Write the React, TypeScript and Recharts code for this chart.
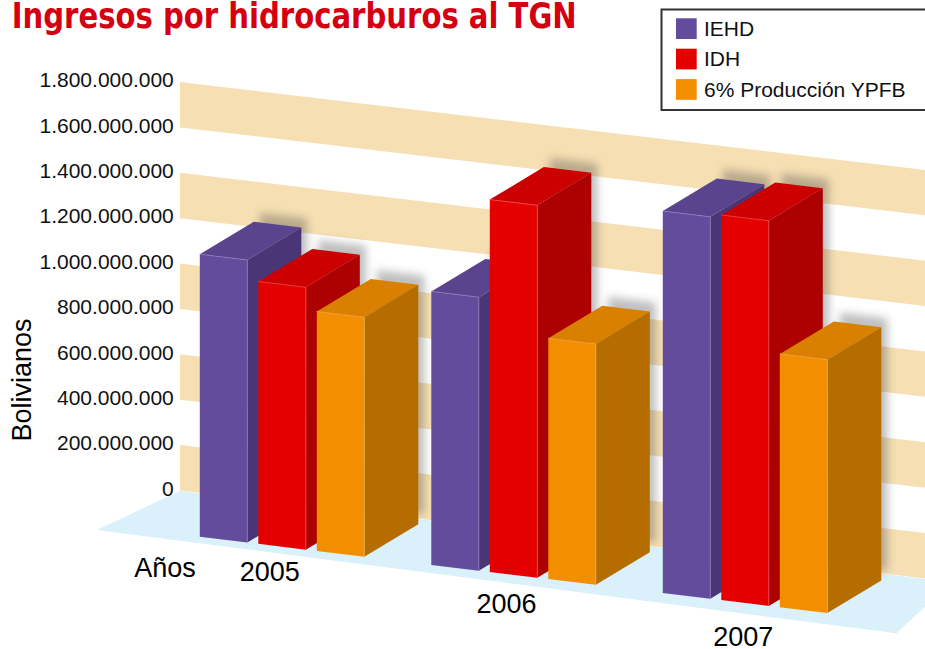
import React from 'react';
import { BarChart, Bar, XAxis, YAxis, ReferenceArea } from 'recharts';

// ---- data ----
const years = ['2005', '2006', '2007'];
const iehd = [1245000000, 1205000000, 1683000000];
const idh = [1156000000, 1641000000, 1697000000];
const ypfb = [1055000000, 1061000000, 1116000000];
const yTicks = [0, 200000000, 400000000, 600000000, 800000000, 1000000000, 1200000000, 1400000000, 1600000000, 1800000000];
const tanBands: [number, number][] = [
  [0, 200000000],
  [400000000, 600000000],
  [800000000, 1000000000],
  [1200000000, 1400000000],
  [1600000000, 1800000000],
];
const seriesNames = ['IEHD', 'IDH', '6% Producción YPFB'];

const data = years.map((year, i) => ({ year, iehd: iehd[i], idh: idh[i], ypfb: ypfb[i] }));

// ---- styling / layout ----
const FONT = "'Liberation Sans', Arial, Helvetica, sans-serif";
const W = 925;
const H = 649;
const PLOT_LEFT = 165.8;
const PLOT_TOP = 82;
const PLOT_BOTTOM = 490.5;
const PLOT_RIGHT = 860.3;

const K_BAR = 0.1215;
const K_WALL = 0.118;
const DROP = 46.2;
const XREF = 199.3;
const DX = 54;
const DY = -32.5;
const WALL_PAD = 14.2;

const COLORS = {
  iehd: { front: '#634c9c', top: '#5a448d', side: '#4a3577', hi: '#8a7bbd' },
  idh: { front: '#e50000', top: '#cc0000', side: '#ad0000', hi: '#f04a4a' },
  ypfb: { front: '#f28e00', top: '#d98000', side: '#b66d00', hi: '#f7ad4a' },
};

const fmt = (n: number) => String(n).replace(/\B(?=(\d{3})+(?!\d))/g, '.');

const drop = (px: number) => DROP + K_BAR * (px - XREF);
const pts = (arr: number[][]) => arr.map((p) => `${p[0]},${p[1]}`).join(' ');

function makeBox(key: 'iehd' | 'idh' | 'ypfb') {
  const c = COLORS[key];
  return (props: any) => {
    const { x, y, width, height, index } = props;
    if (x == null || y == null || !height) return <g />;
    const x1 = x;
    const x2 = x + width;
    const top = y;
    const bot = y + height;
    const ftl = [x1, top + drop(x1)];
    const ftr = [x2, top + drop(x2)];
    const fbr = [x2, bot + drop(x2)];
    const fbl = [x1, bot + drop(x1)];
    const b = (p: number[]) => [p[0] + DX, p[1] + DY];
    const sh = (p: number[]) => [p[0] + DX + 6, p[1] + DY - 9];
    const fid = `shadow-${key}-${index}`;
    return (
      <g>
        <defs>
          <filter id={fid} x="-50%" y="-50%" width="200%" height="200%">
            <feGaussianBlur stdDeviation="4" />
          </filter>
        </defs>
        <polygon points={pts([sh(ftl), sh(ftr), sh(fbr), sh(fbl)])} fill="#3d3d3d" opacity={0.33} filter={`url(#${fid})`} />
        <polygon points={pts([ftl, ftr, fbr, fbl])} fill={c.front} />
        <polygon points={pts([ftl, ftr, b(ftr), b(ftl)])} fill={c.top} />
        <polygon points={pts([ftr, b(ftr), b(fbr), fbr])} fill={c.side} />
        <polyline points={pts([ftl, ftr, fbr])} fill="none" stroke={c.hi} strokeWidth={0.8} />
      </g>
    );
  };
}

const WallBand = (props: any) => {
  const { x, y, width, height } = props;
  const xl = x + WALL_PAD;
  const xr = x + width + 200;
  const s = K_WALL * (xr - xl);
  return <polygon points={pts([[xl, y], [xr, y + s], [xr, y + height + s], [xl, y + height]])} fill="#f6dfb3" />;
};

const Floor = (props: any) => {
  const { x, y, height } = props;
  const xl = x + WALL_PAD;
  const b = y + height;
  return (
    <polygon
      points={pts([
        [xl - 83.3, b + 39.5],
        [xl, b + 0.5],
        [xl + 771, b + 0.5 + K_WALL * 771],
        [xl + 716.7, b + 142.8],
      ])}
      fill="#daf0fb"
    />
  );
};

const YTick = (props: any) => {
  const { x, y, payload } = props;
  return (
    <text x={x + 8} y={y + 5.3} textAnchor="end" fontSize={21} fontFamily={FONT} fill="#111">
      {fmt(payload.value)}
    </text>
  );
};

const XTick = (props: any) => {
  const { x, y, payload } = props;
  const cx = 269.7 + 1.023 * (x - 281.55);
  const by = y + 90.5 + 0.14 * (x - 281.55);
  return (
    <text x={cx} y={by} textAnchor="middle" fontSize={27} fontFamily={FONT} fill="#000">
      {payload.value}
    </text>
  );
};

const legendColors = [COLORS.iehd.front, COLORS.idh.front, COLORS.ypfb.front];

export default function App() {
  return (
    <div style={{ position: 'absolute', left: 0, top: 0, width: W, height: H, overflow: 'hidden', background: '#fff' }}>
      <BarChart
        width={W}
        height={H}
        data={data}
        margin={{ top: PLOT_TOP, right: W - PLOT_RIGHT, bottom: H - PLOT_BOTTOM - 30, left: 0 }}
        barSize={47.5}
        barGap={11}
      >
        <XAxis
          dataKey="year"
          height={30}
          axisLine={false}
          tickLine={false}
          tickSize={0}
          tickMargin={0}
          interval={0}
          tick={<XTick />}
        />
        <YAxis
          type="number"
          domain={[0, 1800000000]}
          ticks={yTicks}
          width={PLOT_LEFT}
          axisLine={false}
          tickLine={false}
          tickSize={0}
          tickMargin={0}
          interval={0}
          tick={<YTick />}
        />
        {tanBands.map(([a, b]) => (
          <ReferenceArea key={`band-${a}`} y1={a} y2={b} shape={WallBand} ifOverflow="visible" />
        ))}
        <ReferenceArea y1={0} y2={200000000} shape={Floor} ifOverflow="visible" />
        <Bar dataKey="iehd" name={seriesNames[0]} fill={COLORS.iehd.front} shape={makeBox('iehd')} isAnimationActive={false} />
        <Bar dataKey="idh" name={seriesNames[1]} fill={COLORS.idh.front} shape={makeBox('idh')} isAnimationActive={false} />
        <Bar dataKey="ypfb" name={seriesNames[2]} fill={COLORS.ypfb.front} shape={makeBox('ypfb')} isAnimationActive={false} />
      </BarChart>
      <svg width={W} height={H} style={{ position: 'absolute', left: 0, top: 0, pointerEvents: 'none' }}>
        <text
          x={11.7}
          y={28.3}
          fontSize={35}
          fontWeight="bold"
          fontFamily="'Liberation Sans Narrow', 'DejaVu Sans Condensed', 'Liberation Sans', Arial, sans-serif"
          fill="#d40012"
          textLength={565}
          lengthAdjust="spacingAndGlyphs"
        >
          Ingresos por hidrocarburos al TGN
        </text>
        <rect x={661.5} y={9.5} width={300} height={100.5} fill="#fff" stroke="#333" strokeWidth={2} />
        {seriesNames.map((n, i) => (
          <g key={n}>
            <rect x={676} y={18.3 + i * 30.4} width={20.7} height={20.7} fill={legendColors[i]} />
            <text x={704} y={36 + i * 30.4} fontSize={21} fontFamily={FONT} fill="#111">
              {n}
            </text>
          </g>
        ))}
        <text x={165} y={576.7} textAnchor="middle" fontSize={27} fontFamily={FONT} fill="#000">
          Años
        </text>
        <text
          x={30.7}
          y={380}
          transform="rotate(-90 30.7 380)"
          textAnchor="middle"
          fontSize={27}
          fontFamily={FONT}
          fill="#000"
        >
          Bolivianos
        </text>
      </svg>
    </div>
  );
}
